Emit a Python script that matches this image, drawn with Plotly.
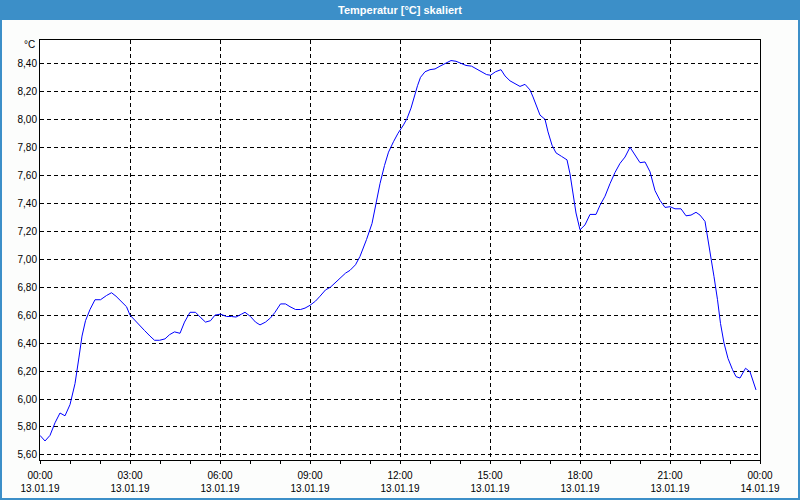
import plotly.graph_objects as go
import pandas as pd

times = ["00:00","00:10","00:20","00:30","00:40","00:50","01:00","01:10","01:18","01:24","01:31","01:40","01:50",
         "02:01","02:13","02:23","02:32","02:43","02:53","03:00","03:10","03:19","03:29","03:40","03:49","03:59",
         "04:10","04:19","04:29","04:40","04:49","05:00","05:11","05:22","05:31","05:41","05:50","06:01","06:13",
         "06:23","06:32","06:43","06:50","07:01","07:11","07:20","07:31","07:41","07:50","08:01","08:11","08:20",
         "08:31","08:41","08:50","09:00","09:11","09:20","09:31","09:41","09:50","10:01","10:11","10:20","10:31",
         "10:40","10:46","10:53","11:04","11:12","11:20","11:29","11:37","11:47","11:56","12:07","12:14","12:22",
         "12:28","12:35","12:41","12:50","13:00","13:10","13:20","13:30","13:42","13:52","14:02","14:12","14:23",
         "14:34","14:43","14:53","15:01","15:11","15:22","15:30","15:40","15:50","16:00","16:10","16:20","16:26",
         "16:34","16:40","16:50","16:56","17:04","17:12","17:23","17:34","17:40","17:46","17:52","18:00","18:10",
         "18:20","18:32","18:40","18:50","19:00","19:10","19:20","19:30","19:40","19:50","20:00","20:10","20:20",
         "20:30","20:40","20:50","21:00","21:10","21:22","21:32","21:42","21:52","22:00","22:10","22:14","22:22",
         "22:28","22:35","22:41","22:48","22:56","23:05","23:12","23:20","23:31","23:40","23:52"]
temps = [5.74,5.70,5.74,5.83,5.90,5.88,5.96,6.11,6.30,6.45,6.56,6.64,6.71,
         6.71,6.74,6.76,6.735,6.695,6.66,6.60,6.56,6.53,6.49,6.45,6.42,6.42,
         6.43,6.46,6.48,6.47,6.55,6.62,6.62,6.58,6.55,6.56,6.60,6.607,6.59,
         6.59,6.586,6.607,6.62,6.59,6.55,6.53,6.55,6.58,6.62,6.68,6.68,6.66,
         6.64,6.64,6.65,6.67,6.70,6.735,6.78,6.80,6.83,6.87,6.90,6.92,6.96,
         7.02,7.07,7.14,7.255,7.40,7.54,7.67,7.765,7.84,7.90,7.96,8.005,8.08,
         8.16,8.24,8.30,8.34,8.355,8.36,8.38,8.40,8.42,8.415,8.40,8.385,8.38,
         8.36,8.34,8.32,8.315,8.34,8.355,8.31,8.275,8.255,8.235,8.25,8.21,8.16,
         8.08,8.03,8.00,7.91,7.815,7.76,7.735,7.71,7.61,7.47,7.33,7.21,7.245,
         7.32,7.32,7.385,7.45,7.54,7.62,7.685,7.73,7.80,7.745,7.69,7.695,7.625,
         7.49,7.42,7.37,7.375,7.36,7.36,7.31,7.315,7.335,7.315,7.27,7.185,7.02,
         6.875,6.71,6.54,6.40,6.29,6.21,6.16,6.15,6.22,6.195,6.065]

x_tick_times = ["2019-01-13 00:00","2019-01-13 03:00","2019-01-13 06:00","2019-01-13 09:00","2019-01-13 12:00",
                "2019-01-13 15:00","2019-01-13 18:00","2019-01-13 21:00","2019-01-14 00:00"]
x_tick_labels = ["00:00<br>13.01.19","03:00<br>13.01.19","06:00<br>13.01.19","09:00<br>13.01.19",
                 "12:00<br>13.01.19","15:00<br>13.01.19","18:00<br>13.01.19","21:00<br>13.01.19",
                 "00:00<br>14.01.19"]
y_tick_vals = [5.6,5.8,6.0,6.2,6.4,6.6,6.8,7.0,7.2,7.4,7.6,7.8,8.0,8.2,8.4]
y_tick_labels = ["5,60","5,80","6,00","6,20","6,40","6,60","6,80","7,00","7,20","7,40","7,60","7,80",
                 "8,00","8,20","8,40"]

x = pd.to_datetime(["2019-01-13 " + t for t in times])

BLUE = "#3C8FC8"
FONT = "Liberation Sans"

fig = go.Figure()
fig.add_trace(go.Scatter(x=x, y=temps, mode="lines", line=dict(color="#0000FF", width=1),
                         hoverinfo="skip", showlegend=False))

L, R, T, B = 40, 40, 40, 40
W, H = 800, 500
pw, ph = W - L - R, H - T - B
def px_x(p):
    return (p - L) / pw
def px_y(p):
    return 1 - (p - T) / ph

fig.update_layout(
    width=W, height=H,
    margin=dict(l=L, r=R, t=T, b=B, pad=0),
    paper_bgcolor="#FCFDFC",
    plot_bgcolor="#FFFFFF",
    font=dict(family=FONT, size=10, color="#000000"),
    showlegend=False,
    shapes=[
        dict(type="rect", xref="paper", yref="paper", x0=px_x(0), x1=px_x(800), y0=px_y(0), y1=px_y(20),
             fillcolor=BLUE, line=dict(width=0), layer="above"),
        dict(type="rect", xref="paper", yref="paper", x0=px_x(1), x1=px_x(799), y0=px_y(499), y1=px_y(19),
             fillcolor="rgba(0,0,0,0)", line=dict(color=BLUE, width=2), layer="above"),
    ],
    annotations=[
        dict(text="<b>Temperatur [°C] skaliert</b>", xref="paper", yref="paper", x=0.5, y=px_y(10),
             xanchor="center", yanchor="middle", showarrow=False,
             font=dict(family=FONT, size=11, color="#FFFFFF")),
        dict(text="°C", xref="paper", yref="paper", x=px_x(37), y=px_y(45),
             xanchor="right", yanchor="middle", showarrow=False,
             font=dict(family=FONT, size=10, color="#000000")),
    ],
)

fig.update_xaxes(
    type="date", automargin=False,
    range=["2019-01-13 00:00", "2019-01-14 00:00"],
    tickvals=pd.to_datetime(x_tick_times), ticktext=x_tick_labels,
    ticks="outside", ticklen=3, tickcolor="#000000", tickwidth=1,
    ticklabelstandoff=3,
    minor=dict(dtick=3600000, ticks="outside", ticklen=3, tickcolor="#000000", showgrid=False),
    showgrid=True, gridcolor="#000000", gridwidth=1, griddash="4px,3px",
    showline=True, mirror=True, linecolor="#000000", linewidth=1,
    zeroline=False, tickfont=dict(family=FONT, size=10, color="#000000"),
)
fig.update_yaxes(
    range=[5.564, 8.567], automargin=False,
    tickvals=y_tick_vals, ticktext=y_tick_labels,
    ticks="", showgrid=True, gridcolor="#000000", gridwidth=1, griddash="4px,3px",
    showline=True, mirror=True, linecolor="#000000", linewidth=1,
    zeroline=False, tickfont=dict(family=FONT, size=10, color="#000000"),
)

fig.write_html("out.html")
